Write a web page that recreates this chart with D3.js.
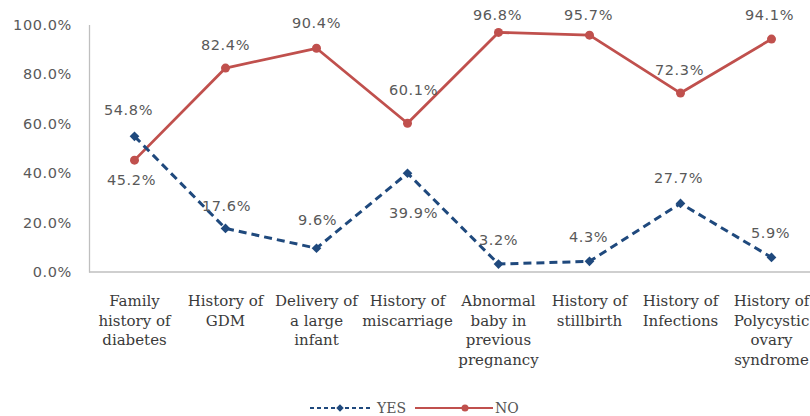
<!DOCTYPE html>
<html>
<head>
<meta charset="utf-8">
<script src="https://cdn.jsdelivr.net/npm/d3@7"></script>
<style>
  html, body { margin: 0; padding: 0; background: #fff; }
  svg { display: block; }
</style>
</head>
<body>
<svg id="chart" width="810" height="416"></svg>
<script>
// Risk factors (x categories), each label split into its wrapped lines
const categories = [
  ["Family", "history of", "diabetes"],
  ["History of", "GDM"],
  ["Delivery of", "a large", "infant"],
  ["History of", "miscarriage"],
  ["Abnormal", "baby in", "previous", "pregnancy"],
  ["History of", "stillbirth"],
  ["History of", "Infections"],
  ["History of", "Polycystic", "ovary", "syndrome"]
];

// Percentages answering YES / NO for each factor
const yesValues = [54.8, 17.6, 9.6, 39.9, 3.2, 4.3, 27.7, 5.9];
const noValues  = [45.2, 82.4, 90.4, 60.1, 96.8, 95.7, 72.3, 94.1];

// Y axis tick values
const yTicks = [0, 20, 40, 60, 80, 100];

// Value label nudges (px) so labels clear the lines
const yesLabelDx = [-6, 1, 1, 6, 0, -1, -2, -1];
const yesLabelDy = [-26, -23, -28, 40, -24, -24, -26, -24];
const noLabelDx  = [-3, 0, 0, 6, -1, -1, -1, -2];
const noLabelDy  = [20, -23, -25, -33, -17, -20, -23, -24];

const W = 810, H = 416;
const svg = d3.select("#chart");

const x = d3.scaleBand()
  .domain(d3.range(categories.length))
  .range([89, 817])
  .padding(0);
const cx = i => x(i) + x.bandwidth() / 2;

const y = d3.scaleLinear().domain([0, 100]).range([272, 24.5]);

const BLUE = "#1F497D", RED = "#C0504D";
const axisColor = "#BFBFBF";
const labelFont = "'DejaVu Sans', Verdana, sans-serif";
const catFont = "'DejaVu Serif', serif";

// Y axis: only the line and the percentage labels
const yAxis = d3.axisLeft(y).tickValues(yTicks).tickSize(0).tickPadding(17)
  .tickFormat(d => d.toFixed(1) + "%");
const gy = svg.append("g").attr("transform", "translate(89,0)").call(yAxis);
gy.select(".domain").attr("stroke", axisColor).attr("stroke-width", 1.3);
gy.selectAll("text")
  .attr("font-family", labelFont).attr("font-size", 14.5)
  .attr("letter-spacing", 0.6)
  .attr("fill", "#595959");

// X axis baseline
const xAxis = d3.axisBottom(x).tickSize(0).tickFormat("");
const gx = svg.append("g").attr("transform", "translate(0,272)").call(xAxis);
gx.select(".domain").attr("stroke", axisColor).attr("stroke-width", 1.3)
  .attr("d", `M89,0H${W}`);

// Category labels (multi-line)
const catG = svg.append("g");
categories.forEach((lines, i) => {
  const t = catG.append("text")
    .attr("x", cx(i)).attr("y", 306)
    .attr("text-anchor", "middle")
    .attr("font-family", catFont).attr("font-size", 15)
    .attr("fill", "#3a3a3a");
  lines.forEach((ln, k) => {
    t.append("tspan").attr("x", cx(i)).attr("dy", k === 0 ? 0 : 19.7).text(ln);
  });
});

const line = d3.line().x((d, i) => cx(i)).y(d => y(d));

// NO series: solid red line with round markers
svg.append("path").datum(noValues)
  .attr("d", line).attr("fill", "none")
  .attr("stroke", RED).attr("stroke-width", 2.8).attr("stroke-linejoin", "round");
svg.append("g").selectAll("circle").data(noValues).join("circle")
  .attr("cx", (d, i) => cx(i)).attr("cy", d => y(d)).attr("r", 4.5)
  .attr("fill", RED);

// YES series: dashed blue line with diamond markers
svg.append("path").datum(yesValues)
  .attr("d", line).attr("fill", "none")
  .attr("stroke", BLUE).attr("stroke-width", 3)
  .attr("stroke-dasharray", "8,5");
const diamond = d3.symbol().type(d3.symbolDiamond2).size(60);
svg.append("g").selectAll("path").data(yesValues).join("path")
  .attr("d", diamond)
  .attr("transform", (d, i) => `translate(${cx(i)},${y(d)})`)
  .attr("fill", BLUE);

// Value labels
function valueLabels(values, dx, dy) {
  svg.append("g").selectAll("text").data(values).join("text")
    .attr("x", (d, i) => cx(i) + dx[i])
    .attr("y", (d, i) => y(d) + dy[i])
    .attr("dy", "0.35em")
    .attr("text-anchor", "middle")
    .attr("font-family", labelFont).attr("font-size", 14.5)
    .attr("letter-spacing", 0.6)
    .attr("fill", "#595959")
    .text(d => d.toFixed(1) + "%");
}
valueLabels(yesValues, yesLabelDx, yesLabelDy);
valueLabels(noValues, noLabelDx, noLabelDy);

// Legend
const lg = svg.append("g").attr("transform", "translate(0,408)");
lg.append("line").attr("x1", 310).attr("x2", 373).attr("y1", 0).attr("y2", 0)
  .attr("stroke", BLUE).attr("stroke-width", 2).attr("stroke-dasharray", "4,3");
lg.append("path").attr("d", d3.symbol().type(d3.symbolDiamond2).size(36))
  .attr("transform", "translate(340,0)").attr("fill", BLUE);
lg.append("text").attr("x", 377).attr("y", 0).attr("dy", "0.35em")
  .attr("font-family", catFont).attr("font-size", 14).attr("fill", "#555")
  .text("YES");
lg.append("line").attr("x1", 415).attr("x2", 493).attr("y1", 0).attr("y2", 0)
  .attr("stroke", RED).attr("stroke-width", 2);
lg.append("circle").attr("cx", 465).attr("cy", 0).attr("r", 3.5).attr("fill", RED);
lg.append("text").attr("x", 495).attr("y", 0).attr("dy", "0.35em")
  .attr("font-family", catFont).attr("font-size", 14).attr("fill", "#555")
  .text("NO");
</script>
</body>
</html>
